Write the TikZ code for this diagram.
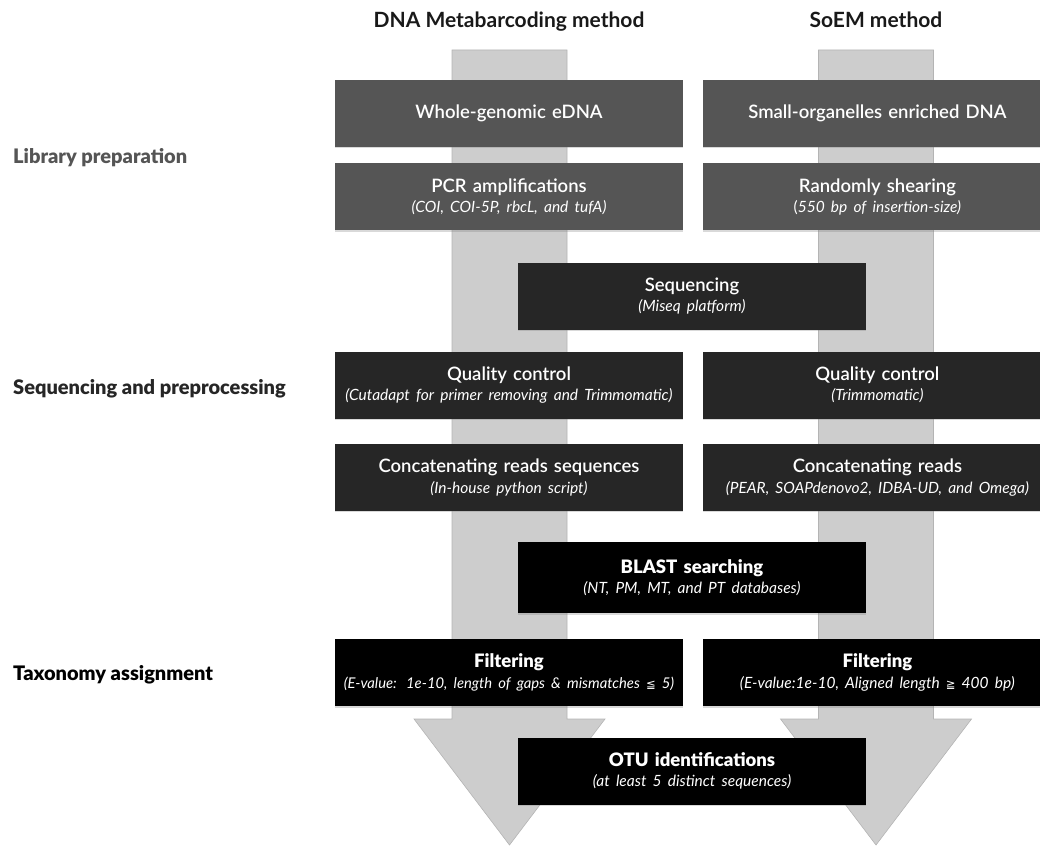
\documentclass[tikz,border=0pt]{standalone}
\usepackage{fontspec}
\setmainfont{Lato}
\newfontfamily\semifont{Lato Semibold}
\newfontfamily\blackfont{Lato Black}
\newfontfamily\symfont{DejaVu Sans}
\usetikzlibrary{positioning,shadows}

\definecolor{prepgray}{HTML}{555555}
\definecolor{seqgray}{HTML}{262626}
\definecolor{taxblack}{HTML}{000000}
\definecolor{shaftgray}{HTML}{CDCDCD}
\definecolor{shaftedge}{HTML}{B4B4B4}

\newcommand{\boxsub}[2][15.5]{\\[-0.5pt]{\normalfont\fontsize{#1}{18}\selectfont\itshape #2}}

\begin{document}
\begin{tikzpicture}[x=1pt,y=-1pt]
\tikzstyle{stepbox}=[rectangle,text=white,align=center,text width=340pt,inner xsep=4pt,inner ysep=2pt,minimum height=67pt,font=\semifont\fontsize{18.5}{21}\selectfont,drop shadow={shadow xshift=0pt,shadow yshift=-1.5pt,opacity=0.3}]
\tikzstyle{prep}=[stepbox,fill=prepgray]
\tikzstyle{seq}=[stepbox,fill=seqgray]
\tikzstyle{tax}=[stepbox,fill=taxblack,font=\blackfont\fontsize{18.5}{21}\selectfont]
\tikzstyle{phase}=[anchor=base west,inner sep=0pt,font=\blackfont\fontsize{20}{22}\selectfont]
\tikzstyle{method}=[anchor=base,inner sep=0pt,font=\bfseries\fontsize{21}{23}\selectfont,text=black!90]
\tikzstyle{shaft}=[fill=shaftgray,draw=shaftedge,line width=0.6pt]

\useasboundingbox (0,0) rectangle (1040,845);
\clip (0,0) rectangle (1040,845);

% big arrows behind the boxes
\foreach \cx in {509.5,876}
  \filldraw[shaft] (\cx-57.5,50) -- (\cx+57.5,50) -- (\cx+57.5,719) -- (\cx+95.5,719) -- (\cx,845) -- (\cx-95.5,719) -- (\cx-57.5,719) -- cycle;

\node[method] (hdna) at (509,28) {DNA Metabarcoding method};
\node[method] (hsoem) at (876,28) {SoEM method};

\node[phase,text=prepgray] (lib) at (13,164) {Library preparation};
\node[phase,text=seqgray] (seqproc) at (13,394) {Sequencing and preprocessing};
\node[phase] (taxo) at (13,680) {Taxonomy assignment};

% library preparation
\node[prep] (wge) at (509,113.5) {Whole-genomic eDNA};
\node[prep,right=20pt of wge] (soe) {Small-organelles enriched DNA};
\node[prep,below=16pt of wge] (pcr) {PCR amplifications\boxsub{(COI, COI-5P, rbcL, and tufA)}};
\node[prep,below=16pt of soe] (shear) {Randomly shearing\boxsub{{\upshape(}550 bp of insertion-size)}};

% sequencing and preprocessing
\node[seq] (miseq) at (692,296) {Sequencing\boxsub{(Miseq platform)}};
\node[seq] (qcl) at (509,385) {Quality control\boxsub{(Cutadapt for primer removing and Trimmomatic)}};
\node[seq,right=20pt of qcl] (qcr) {Quality control\boxsub{(Trimmomatic)}};
\node[seq,below=25pt of qcl] (catl) {Concatenating reads sequences\boxsub{(In-house python script)}};
\node[seq,right=20pt of catl] (catr) {Concatenating reads\boxsub{(PEAR, SOAPdenovo2, IDBA-UD, and Omega)}};

% taxonomy assignment
\node[tax,minimum height=71pt] (blast) at (692,577.5) {BLAST searching\boxsub{(NT, PM, MT, and PT databases)}};
\node[tax] (filtl) at (509,672.5) {Filtering\boxsub[14.8]{\mbox{(E-value: 1e-10, length of gaps \& mismatches {\symfont\fontsize{11.5}{14}\selectfont ≦} 5)}}};
\node[tax,right=20pt of filtl] (filtr) {Filtering\boxsub{(E-value:1e-10, Aligned length {\symfont\fontsize{11.5}{14}\selectfont ≧} 400 bp)}};
\node[tax] (otu) at (692,771) {OTU identifications\boxsub{(at least 5 distinct sequences)}};
\end{tikzpicture}
\end{document}
